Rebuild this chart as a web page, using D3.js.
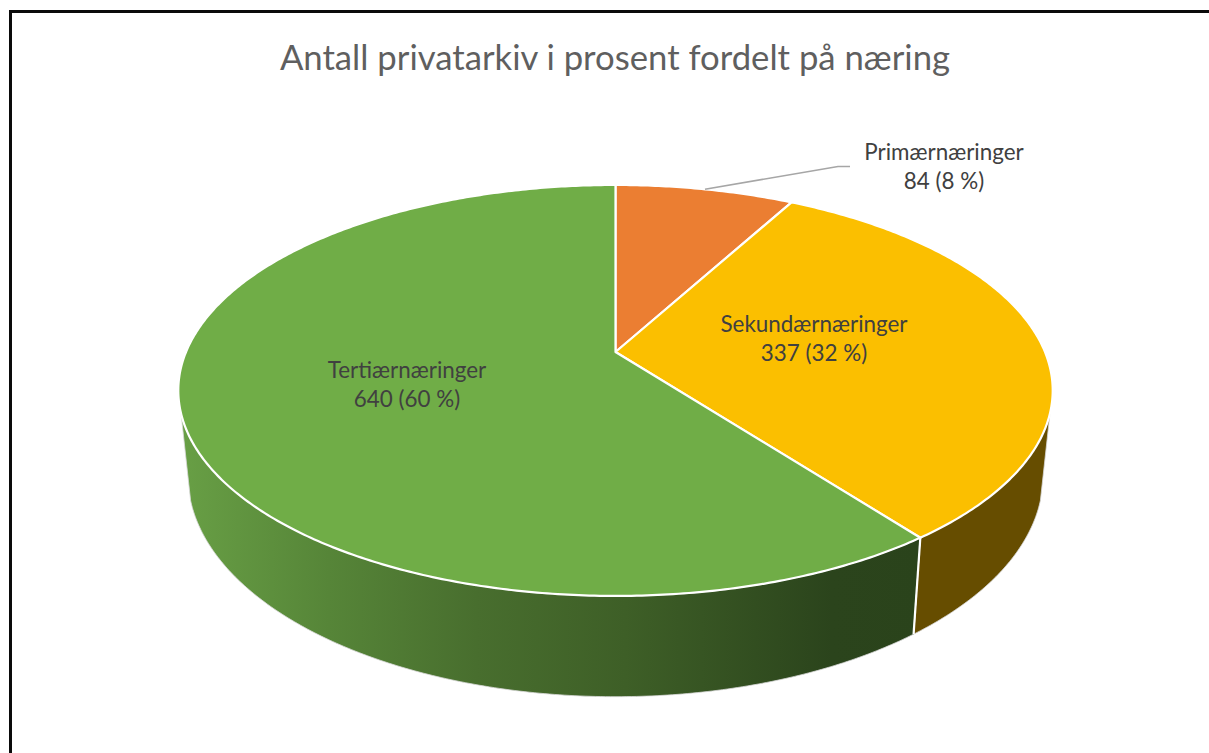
<!DOCTYPE html>
<html>
<head>
<meta charset="utf-8">
<script src="https://cdn.jsdelivr.net/npm/d3@7"></script>
<style>
html,body{margin:0;padding:0;background:#fff;overflow:hidden}
svg{display:block}
text{font-family:Lato,"Open Sans",sans-serif}
</style>
</head>
<body>
<svg id="chart" width="1209" height="753"></svg>
<script>
const titleText = "Antall privatarkiv i prosent fordelt på næring";
const categories = ["Primærnæringer", "Sekundærnæringer", "Tertiærnæringer"];
const values = [84, 337, 640];
const valueLabels = ["84 (8 %)", "337 (32 %)", "640 (60 %)"];
const topColors = ["#EB7E32", "#FBBF00", "#70AD47"];
const wallColors = ["#8E4B1D", "#664D00", "#70AD47"];
const labelAnchors = [[944, 160], [814, 332], [407, 378]];

const W = 1209, H = 753;
const svg = d3.select("#chart");
const defs = svg.append("defs");

// perspective projection of a unit disc
const K = 0.187;
const topDisc = {cx: 615.5, cy: 352, a: 429.5, b: 198.3};
const lowDisc = {cx: 615.5, cy: 434.7, a: 420, b: 213};
function project(disc, theta) {
  const u = Math.sin(theta), v = Math.cos(theta), d = 1 + K * v;
  return [disc.cx + disc.a * u / d, disc.cy - disc.b * v / d];
}
const arcPoints = (disc, a0, a1) => {
  const n = Math.max(2, Math.ceil(Math.abs(a1 - a0) / 0.01));
  return d3.range(n + 1).map(i => project(disc, a0 + (a1 - a0) * i / n));
};
const line = d3.line();

const arcs = d3.pie().sort(null).value(d => d)(values);

// frame
svg.append("rect").attr("width", W).attr("height", H).attr("fill", "#fff");
svg.append("rect").attr("x", 10.5).attr("y", 11.5).attr("width", W + 20).attr("height", H + 20)
  .attr("fill", "none").attr("stroke", "#0a0a0a").attr("stroke-width", 3);

// title
svg.append("text").attr("x", 615).attr("y", 70).attr("text-anchor", "middle")
  .attr("font-size", 34.7).attr("fill", "#5f5f5f").text(titleText);

// wall gradient
const grad = defs.append("linearGradient").attr("id", "wallGreen")
  .attr("gradientUnits", "userSpaceOnUse").attr("x1", 181).attr("x2", 921).attr("y1", 0).attr("y2", 0);
[[0, "#689F45"], [0.2, "#568538"], [0.4, "#486E2E"], [0.6, "#3E5F27"], [0.88, "#2B441C"], [1, "#2A431B"]]
  .forEach(s => grad.append("stop").attr("offset", s[0]).attr("stop-color", s[1]));

// visible wall range (clockwise from top)
const wallStart = 107 * Math.PI / 180, wallEnd = 253 * Math.PI / 180;
const gWalls = svg.append("g");
arcs.forEach((d, i) => {
  const a0 = Math.max(d.startAngle, wallStart), a1 = Math.min(d.endAngle, wallEnd);
  if (a1 <= a0) return;
  const pts = arcPoints(topDisc, a0, a1).concat(arcPoints(lowDisc, a1, a0));
  gWalls.append("path").attr("d", line(pts) + "Z")
    .attr("fill", i === 2 ? "url(#wallGreen)" : wallColors[i])
    .attr("stroke", "#d8d8d8").attr("stroke-width", 0.8);
});
// white seam between visible walls
const seam = arcs[1].endAngle;
svg.append("path").attr("d", line([project(topDisc, seam), project(lowDisc, seam)]))
  .attr("stroke", "#fff").attr("stroke-width", 2.2).attr("fill", "none");

// top slices
arcs.forEach((d, i) => {
  const pts = [[topDisc.cx, topDisc.cy]].concat(arcPoints(topDisc, d.startAngle, d.endAngle));
  svg.append("path").attr("d", line(pts) + "Z")
    .attr("fill", topColors[i]).attr("stroke", "#fff").attr("stroke-width", 2.2)
    .attr("stroke-linejoin", "round");
});

// leader line
const mid = (arcs[0].startAngle + arcs[0].endAngle) / 2;
const anchor = project(topDisc, mid);
svg.append("path").attr("d", line([anchor, [838, 166.5], [850, 166.5]]))
  .attr("fill", "none").attr("stroke", "#A6A6A6").attr("stroke-width", 1.6);

// labels
categories.forEach((c, i) => {
  const [x, y] = labelAnchors[i];
  const t = svg.append("text").attr("text-anchor", "middle").attr("font-size", 22.4).attr("fill", "#404040");
  t.append("tspan").attr("x", x).attr("y", y).text(c);
  t.append("tspan").attr("x", x).attr("y", y + 29).text(valueLabels[i]);
});
</script>
</body>
</html>
